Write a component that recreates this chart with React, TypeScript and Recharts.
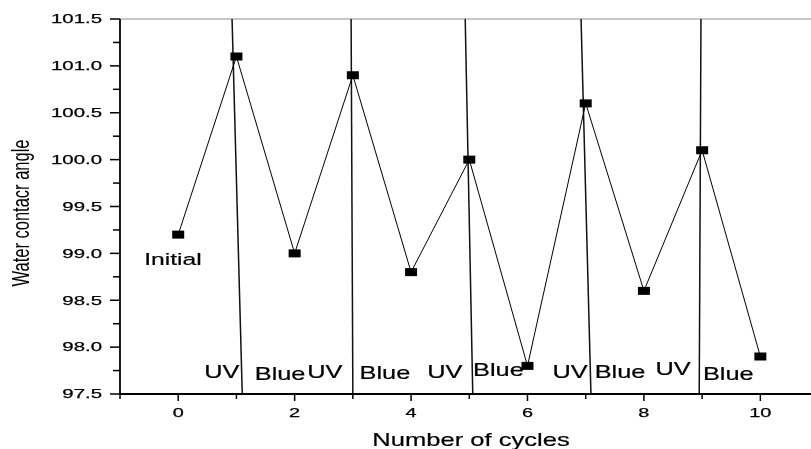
import React from "react";
import {
  ComposedChart,
  Line,
  XAxis,
  YAxis,
  ReferenceLine,
  ReferenceDot,
} from "recharts";

// measured contact angle per cycle
const cycles = [0, 1, 2, 3, 4, 5, 6, 7, 8, 9, 10];
const contactAngle = [99.2, 101.1, 99.0, 100.9, 98.8, 100.0, 97.8, 100.6, 98.6, 100.1, 97.9];

const xTicks = [-1, 0, 1, 2, 3, 4, 5, 6, 7, 8, 9, 10];
const yTicks = [97.5, 97.75, 98, 98.25, 98.5, 98.75, 99, 99.25, 99.5, 99.75, 100, 100.25, 100.5, 100.75, 101, 101.25, 101.5];

// hand drawn dividers between UV / Blue phases (x at top and bottom)
const dividerTop = [0.925, 2.97, 4.93, 6.92, 8.98];
const dividerBottom = [1.1, 3.0, 5.06, 7.09, 8.95];

const phaseNames = ["UV", "Blue", "UV", "Blue", "UV", "Blue", "UV", "Blue", "UV", "Blue"];
const phaseX = [0.75, 1.75, 2.52, 3.55, 4.58, 5.5, 6.73, 7.59, 8.5, 9.45];
const phaseY = [97.74, 97.72, 97.74, 97.73, 97.74, 97.76, 97.74, 97.74, 97.77, 97.72];

const initialX = -0.09;
const initialY = 98.94;

const FONT = '"Liberation Sans", Arial, sans-serif';

const data = cycles.map((c, i) => ({ cycle: c, angle: contactAngle[i] }));

// rough width of a numeric label in em (Arial metrics)
const numWidth = (s: string) =>
  s.split("").reduce((w, ch) => w + (ch === "." ? 0.278 : 0.556), 0);

function XTick(props: any) {
  const { x, y, payload } = props;
  const v = payload.value;
  const major = v >= 0 && v % 2 === 0;
  const s = String(v);
  return (
    <g>
      <line x1={x} x2={x} y1={y} y2={y + (major ? 7 : 5)} stroke="#000" strokeWidth={1.5} />
      {major && (
        <text
          x={x}
          y={y + 22.5}
          textAnchor="middle"
          fontSize={12}
          fontFamily={FONT}
          fill="#000"
          stroke="#000"
          strokeWidth={0.25}
          textLength={numWidth(s) * 12 * 1.66}
          lengthAdjust="spacingAndGlyphs"
        >
          {s}
        </text>
      )}
    </g>
  );
}

function YTick(props: any) {
  const { x, y, payload } = props;
  const v = payload.value;
  const major = Math.abs(v * 2 - Math.round(v * 2)) < 1e-6;
  const s = v.toFixed(1);
  return (
    <g>
      <line x1={x - (major ? 10 : 7)} x2={x} y1={y} y2={y} stroke="#000" strokeWidth={1.5} />
      {major && (
        <text
          x={x - 18}
          y={y + 4.3}
          textAnchor="end"
          fontSize={12}
          fontFamily={FONT}
          fill="#000"
          stroke="#000"
          strokeWidth={0.25}
          textLength={numWidth(s) * 12 * 1.7}
          lengthAdjust="spacingAndGlyphs"
        >
          {s}
        </text>
      )}
    </g>
  );
}

const Marker = (props: any) => {
  const { cx, cy, index } = props;
  return <rect key={`m${index}`} x={cx - 6} y={cy - 4} width={12} height={8} fill="#000" />;
};

const scaledLabel = (text: string, size: number) => (props: any) => {
  const { viewBox } = props;
  const cx = viewBox.x + viewBox.width / 2;
  const cy = viewBox.y + viewBox.height / 2;
  return (
    <text
      transform={`translate(${cx},${cy + size * 0.358}) scale(1.45,1)`}
      textAnchor="middle"
      fontSize={size}
      fontFamily={FONT}
      fill="#000"
      stroke="#000"
      strokeWidth={0.2}
    >
      {text}
    </text>
  );
};

export default function App() {
  return (
    <div style={{ position: "fixed", left: 0, top: 0 }}>
      <ComposedChart
        width={811}
        height={449}
        data={data}
        margin={{ top: 19, right: 0, bottom: 0, left: 0 }}
      >
        <XAxis
          dataKey="cycle"
          type="number"
          domain={[-1, 10.87]}
          ticks={xTicks}
          allowDataOverflow
          height={55}
          tickSize={0}
          tickMargin={0}
          tickLine={false}
          tick={<XTick />}
          axisLine={{ stroke: "#000", strokeWidth: 1.8 }}
          label={{
            content: () => (
              <text
                transform="translate(471,446) scale(1.42,1)"
                textAnchor="middle"
                fontSize={18}
                fontFamily={FONT}
                fill="#000"
                stroke="#000"
                strokeWidth={0.2}
              >
                Number of cycles
              </text>
            ),
          }}
        />
        <YAxis
          type="number"
          domain={[97.5, 101.5]}
          ticks={yTicks}
          allowDataOverflow
          width={120}
          tickSize={0}
          tickMargin={0}
          tickLine={false}
          tick={<YTick />}
          axisLine={{ stroke: "#000", strokeWidth: 1.8 }}
          label={{
            content: () => (
              <text
                transform="translate(29,213) scale(1.45,1) rotate(-90)"
                textAnchor="middle"
                fontSize={16.5}
                fontFamily={FONT}
                fill="#000"
              >
                Water contacr angle
              </text>
            ),
          }}
        />
        <ReferenceLine y={101.5} stroke="#b5b5b5" strokeWidth={1.5} />
        {dividerTop.map((xt, i) => (
          <ReferenceLine
            key={`d${i}`}
            segment={[
              { x: xt, y: 101.5 },
              { x: dividerBottom[i], y: 97.5 },
            ]}
            stroke="#111"
            strokeWidth={1.5}
          />
        ))}
        <Line
          dataKey="angle"
          type="linear"
          stroke="#000"
          strokeWidth={1}
          dot={<Marker />}
          activeDot={false}
          isAnimationActive={false}
        />
        <ReferenceDot
          x={initialX}
          y={initialY}
          r={0.1}
          fill="none"
          stroke="none"
          label={{ content: scaledLabel("Initial", 17) }}
        />
        {phaseNames.map((name, i) => (
          <ReferenceDot
            key={`p${i}`}
            x={phaseX[i]}
            y={phaseY[i]}
            r={0.1}
            fill="none"
            stroke="none"
            label={{ content: scaledLabel(name, 17.5) }}
          />
        ))}
      </ComposedChart>
    </div>
  );
}
